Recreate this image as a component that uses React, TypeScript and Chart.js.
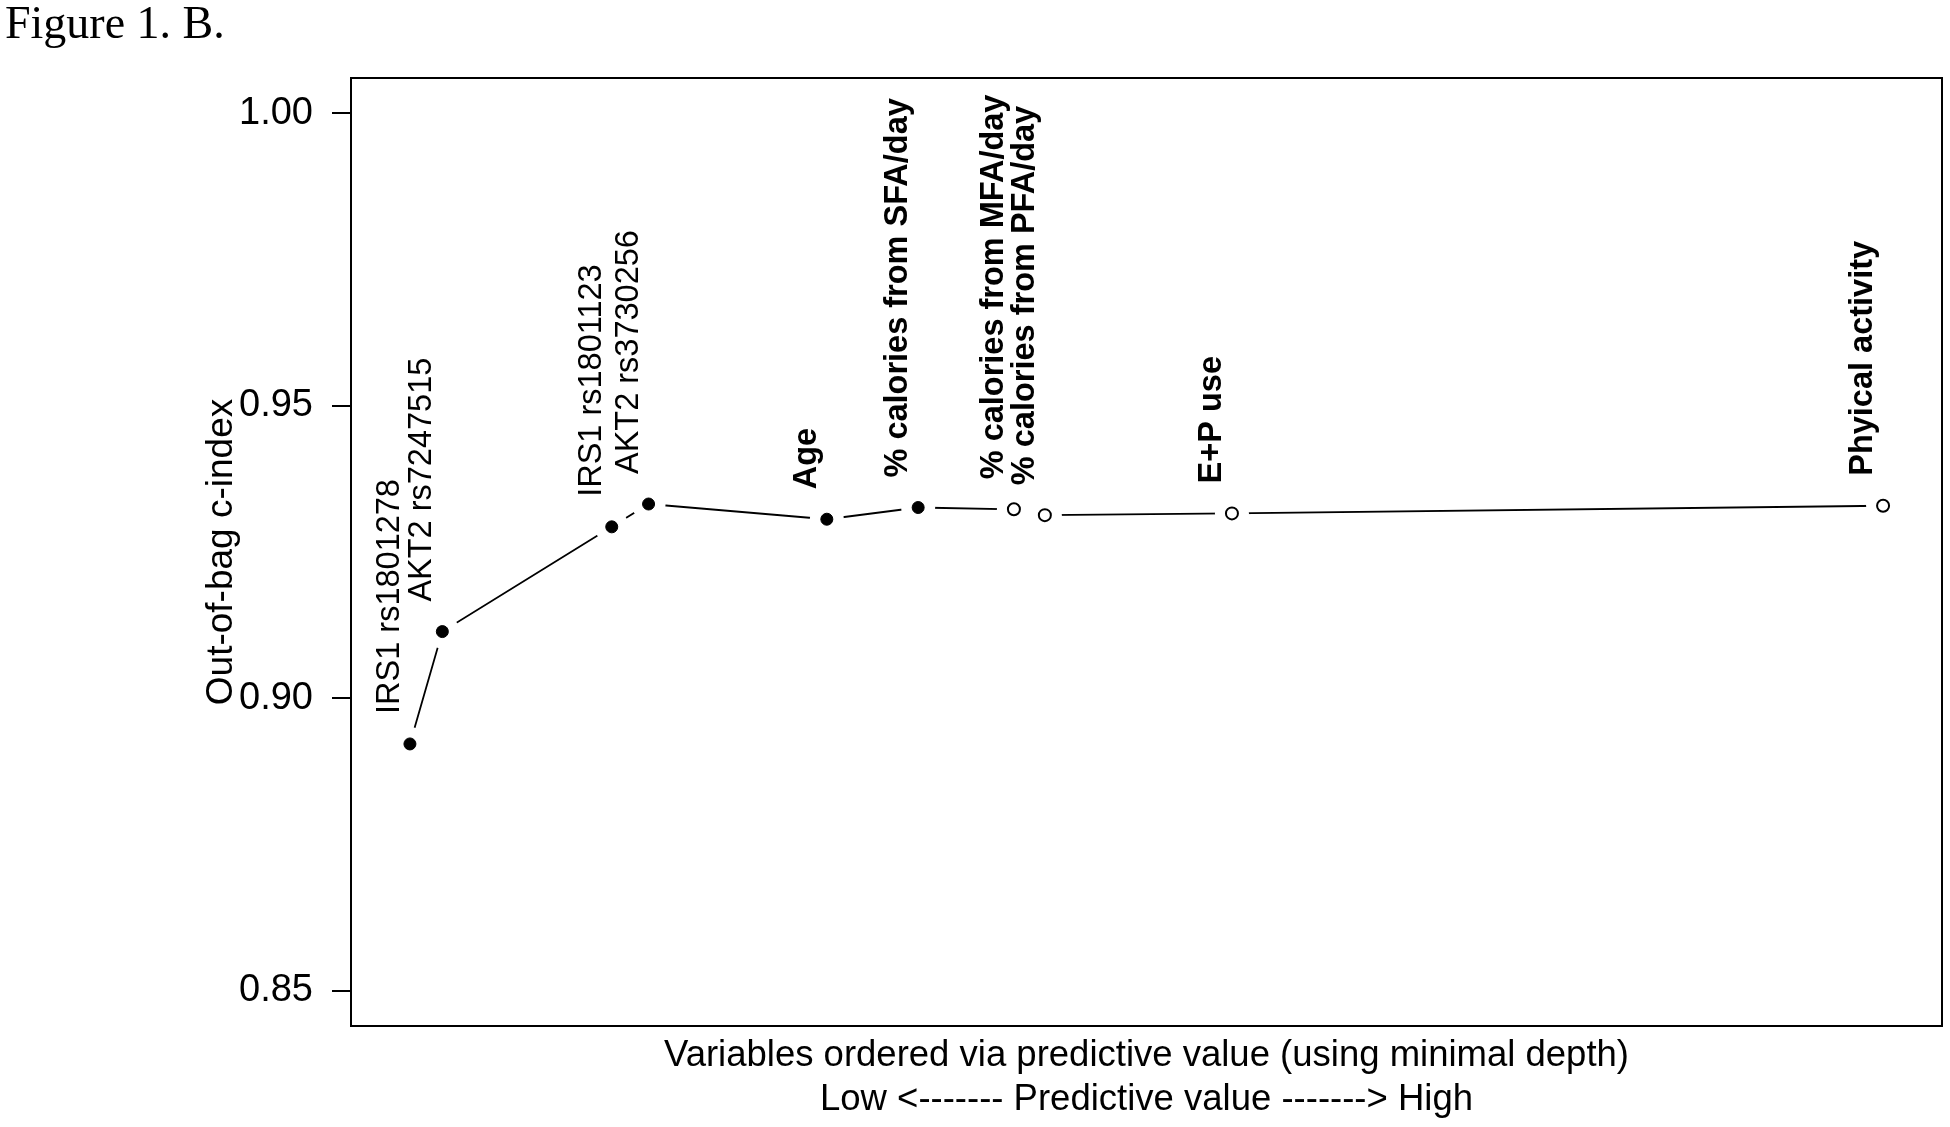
import React, { useEffect, useRef } from "react";
import { Chart, registerables } from "chart.js";

Chart.register(...registerables);

// ---- data ----
const variables = [
  "IRS1 rs1801278",
  "AKT2 rs7247515",
  "IRS1 rs1801123",
  "AKT2 rs3730256",
  "Age",
  "% calories from SFA/day",
  "% calories from MFA/day",
  "% calories from PFA/day",
  "E+P use",
  "Phyical activity",
];
const depthPos = [0, 2.2, 13.7, 16.2, 28.3, 34.5, 41.0, 43.1, 55.8, 100];
const cIndex = [0.8922, 0.9114, 0.9293, 0.9332, 0.9306, 0.9326, 0.9323, 0.9313, 0.9316, 0.9329];
const filledMarker = [true, true, true, true, true, true, false, false, false, false];
const boldLabel = [false, false, false, false, true, true, true, true, true, true];
const yTicks = [0.85, 0.9, 0.95, 1.0];
const yTitle = "Out-of-bag c-index";
const xTitle = [
  "Variables ordered via predictive value (using minimal depth)",
  "Low <------- Predictive value -------> High",
];
const figureTitle = "Figure 1. B.";

const SANS = "'Liberation Sans', Arial, sans-serif";
const SERIF = "'Liberation Serif', 'Times New Roman', serif";

const points = depthPos.map((x, i) => ({ x, y: cIndex[i] }));

const decorPlugin = {
  id: "decor",
  afterDatasetsDraw(chart: any) {
    const { ctx, chartArea } = chart;
    const xs = chart.scales.x;
    const ys = chart.scales.y;
    ctx.save();
    // plot box
    ctx.strokeStyle = "#000";
    ctx.lineWidth = 2;
    ctx.strokeRect(chartArea.left, chartArea.top, chartArea.right - chartArea.left, chartArea.bottom - chartArea.top);
    // rotated variable labels
    ctx.fillStyle = "#000";
    ctx.textAlign = "left";
    ctx.textBaseline = "middle";
    variables.forEach((label, i) => {
      const px = xs.getPixelForValue(depthPos[i]);
      const py = ys.getPixelForValue(cIndex[i]);
      ctx.save();
      ctx.translate(px - 20, py - 30);
      ctx.rotate(-Math.PI / 2);
      ctx.font = boldLabel[i] ? `bold 32.5px ${SANS}` : `32.5px ${SANS}`;
      ctx.fillText(label, 0, 0);
      ctx.restore();
    });
    // figure caption
    ctx.font = `46px ${SERIF}`;
    ctx.textBaseline = "alphabetic";
    ctx.fillText(figureTitle, 5, 38);
    ctx.restore();
  },
};

export default function App() {
  const ref = useRef<HTMLCanvasElement | null>(null);

  useEffect(() => {
    document.body.style.overflow = "hidden";
    const canvas = ref.current;
    if (!canvas) return;
    const chart = new Chart(canvas, {
      type: "scatter",
      data: {
        datasets: [
          {
            label: "line",
            data: points,
            showLine: true,
            borderColor: "#000",
            borderWidth: 1.8,
            pointRadius: 0,
            tension: 0,
            order: 3,
          } as any,
          {
            label: "gap",
            data: points,
            showLine: false,
            pointRadius: 17,
            pointBackgroundColor: "#fff",
            pointBorderWidth: 0,
            pointBorderColor: "#fff",
            order: 2,
          },
          {
            label: "markers",
            data: points,
            showLine: false,
            pointRadius: 6,
            pointBackgroundColor: filledMarker.map((f) => (f ? "#000" : "#fff")),
            pointBorderColor: "#000",
            pointBorderWidth: filledMarker.map((f) => (f ? 1 : 2)),
            order: 1,
          },
        ],
      },
      options: {
        responsive: false,
        animation: false,
        events: [],
        layout: { autoPadding: false, padding: { left: 0, top: 78, right: 8, bottom: 0 } },
        plugins: {
          legend: { display: false },
          tooltip: { enabled: false },
        },
        scales: {
          x: {
            type: "linear",
            min: -4,
            max: 104,
            grid: { display: false },
            border: { display: false },
            ticks: { display: false },
            title: {
              display: true,
              text: xTitle,
              color: "#000",
              font: { family: SANS, size: 36.5, lineHeight: 1.18 },
              padding: { top: 0, bottom: 6 },
            },
            afterFit: (scale: any) => {
              scale.height = 101;
            },
          },
          y: {
            type: "linear",
            min: 0.844,
            max: 1.006,
            grid: {
              display: true,
              drawOnChartArea: false,
              drawTicks: true,
              tickLength: 19,
              color: "#000",
              lineWidth: 2,
            },
            border: { display: false },
            ticks: {
              color: "#000",
              padding: 19,
              font: { family: SANS, size: 38 },
              callback: (v: any) => Number(v).toFixed(2),
            },
            afterBuildTicks: (scale: any) => {
              scale.ticks = yTicks.map((v) => ({ value: v }));
            },
            title: {
              display: true,
              text: yTitle,
              color: "#000",
              font: { family: SANS, size: 37, lineHeight: 1.2 },
              padding: { top: 200, bottom: 0 },
            },
            afterFit: (scale: any) => {
              scale.width = 351;
            },
          },
        },
      },
      plugins: [decorPlugin],
    });
    return () => chart.destroy();
  }, []);

  return (
    <div style={{ position: "absolute", left: 0, top: 0, width: 1950, height: 1127, background: "#fff" }}>
      <canvas ref={ref} width={1950} height={1127} style={{ width: 1950, height: 1127, display: "block" }} />
    </div>
  );
}
